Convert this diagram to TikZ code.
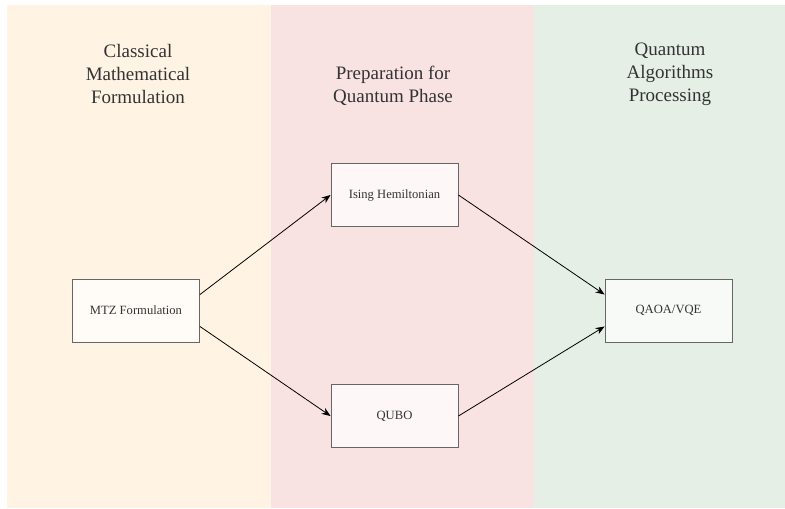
\documentclass[tikz,border=0pt]{standalone}
\usepackage{fontspec}
\setmainfont{Liberation Serif}
\usetikzlibrary{arrows.meta,calc}
\definecolor{classbg}{RGB}{255,244,227}
\definecolor{prepbg}{RGB}{248,226,226}
\definecolor{quantbg}{RGB}{229,239,230}
\definecolor{inkgray}{RGB}{51,51,51}
\begin{document}
\begin{tikzpicture}[x=1pt, y=-1pt, >={Stealth[length=9pt,width=7pt]},
    stage/.style={draw=black!60, line width=0.9pt, fill=white, fill opacity=0.75, text opacity=1,
        minimum width=127pt, minimum height=63pt, text=inkgray, font=\fontsize{12.6}{15}\selectfont},
    phase/.style={align=center, text=inkgray, font=\fontsize{19}{23}\selectfont}]
    \useasboundingbox (0,0) rectangle (785,509);
    \fill[classbg] (7,5) rectangle (271,508);
    \fill[prepbg] (271,5) rectangle (534,508);
    \fill[quantbg] (534,5) rectangle (785,508);
    \node[phase] (classical) at (138,74) {Classical\\Mathematical\\Formulation};
    \node[phase] (preparation) at (393,86) {Preparation for\\Quantum Phase};
    \node[phase] (processing) at (670,74) {Quantum\\Algorithms\\Processing};
    \node[stage] (mtz) at (136,310.5) {MTZ Formulation};
    \node[stage] (ising) at (394.5,195) {Ising Hemiltonian};
    \node[stage] (qubo) at (394.5,416) {QUBO};
    \node[stage] (qaoa) at (668.5,310.5) {QAOA/VQE};
    \draw[->, line width=0.8pt] ($(mtz.north east)!0.25!(mtz.south east)$) -- (ising.west);
    \draw[->, line width=0.8pt] ($(mtz.north east)!0.75!(mtz.south east)$) -- (qubo.west);
    \draw[->, line width=0.8pt] (ising.east) -- ($(qaoa.north west)!0.25!(qaoa.south west)$);
    \draw[->, line width=0.8pt] (qubo.east) -- ($(qaoa.north west)!0.75!(qaoa.south west)$);
\end{tikzpicture}
\end{document}
